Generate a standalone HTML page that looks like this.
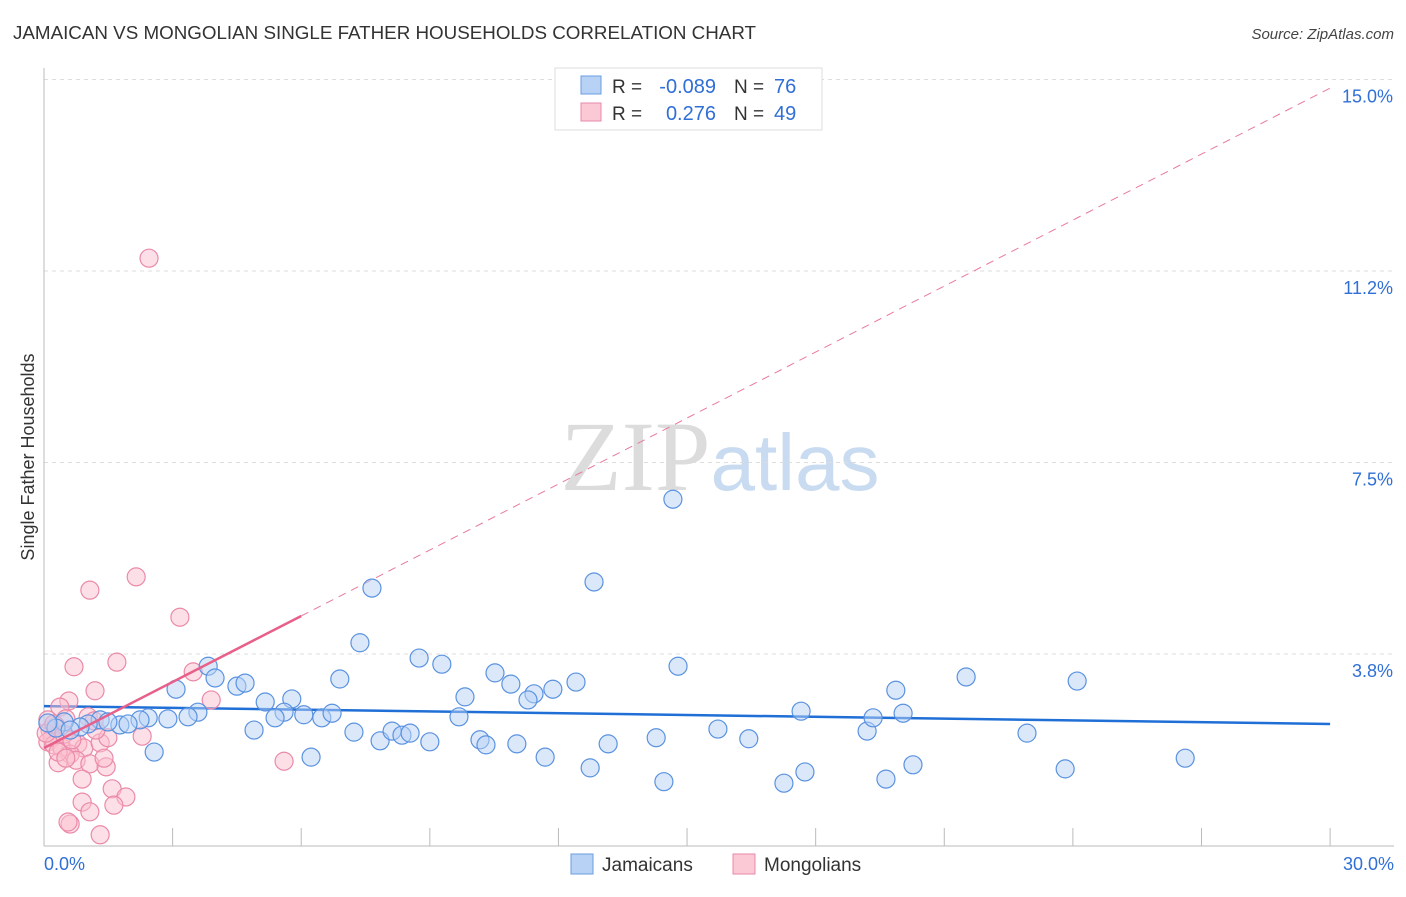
<!DOCTYPE html>
<html><head><meta charset="utf-8"><style>
body{margin:0;background:#fff;font-family:"Liberation Sans",sans-serif;}
svg text{font-family:"Liberation Sans",sans-serif;}
</style></head><body>
<svg id="chart" width="1406" height="892" viewBox="0 0 1406 892" xmlns="http://www.w3.org/2000/svg">
<text x="13" y="39" font-size="18.8" fill="#333">JAMAICAN VS MONGOLIAN SINGLE FATHER HOUSEHOLDS CORRELATION CHART</text>
<text x="1394" y="39" font-size="15" fill="#444" text-anchor="end" font-style="italic">Source: ZipAtlas.com</text>
<text x="720" y="490" font-size="100" text-anchor="middle"><tspan fill="#dcdcdc" font-family="Liberation Serif">ZIP</tspan><tspan fill="#c9dbf0" font-size="80">atlas</tspan></text>
<text transform="translate(34,457) rotate(-90)" font-size="18" fill="#333" text-anchor="middle">Single Father Households</text>
<g id="grid"></g><g id="axes"></g><g id="trends"></g><g id="pts"></g>
<g>
<rect x="555" y="68" width="267" height="62" fill="#fff" stroke="#ddd"/>
<rect x="581" y="76" width="20" height="18" fill="#b8d2f5" stroke="#6a9de0"/>
<rect x="581" y="103" width="20" height="18" fill="#fbc8d6" stroke="#ea8aa8"/>
<text x="612" y="93" font-size="19" fill="#333">R =</text>
<text x="716" y="93" font-size="20" fill="#2f6fd6" text-anchor="end">-0.089</text>
<text x="734" y="93" font-size="19" fill="#333">N =</text>
<text x="774" y="93" font-size="20" fill="#2f6fd6">76</text>
<text x="612" y="120" font-size="19" fill="#333">R =</text>
<text x="716" y="120" font-size="20" fill="#2f6fd6" text-anchor="end">0.276</text>
<text x="734" y="120" font-size="19" fill="#333">N =</text>
<text x="774" y="120" font-size="20" fill="#2f6fd6">49</text>
</g>
<g>
<rect x="571" y="854" width="22" height="20" fill="#b8d2f5" stroke="#6a9de0"/>
<text x="602" y="871" font-size="19" fill="#333">Jamaicans</text>
<rect x="733" y="854" width="22" height="20" fill="#fbc8d6" stroke="#ea8aa8"/>
<text x="764" y="871" font-size="19" fill="#333">Mongolians</text>
</g>
</svg>
<script>
const yTicks=[3.75,7.5,11.25,15];
const yTickLabels=["3.8%","7.5%","11.2%","15.0%"];
const xTickLabels=["0.0%","30.0%"];
const blueX=[14.67,12.83,7.65,7.37,8.75,9.28,14.79,10.52,10.89,11.43,11.29,11.87,12.41,9.82,9.68,6.90,3.83,3.99,4.50,4.69,3.08,5.16,5.78,5.60,6.06,6.48,6.72,5.39,3.59,3.36,2.89,2.43,2.24,1.77,1.31,1.49,1.03,0.84,0.47,0.28,0.09,2.57,4.90,6.23,7.23,7.84,8.12,8.35,8.54,9.00,10.17,10.31,11.03,11.69,12.74,13.16,14.28,14.46,15.72,16.44,17.26,17.66,17.75,19.20,19.34,19.64,19.87,20.04,20.27,21.51,22.93,23.82,24.10,26.62,1.96,0.61];
const blueY=[6.78,5.16,5.04,3.97,3.67,3.55,3.51,3.38,3.16,2.97,2.85,3.06,3.20,2.91,2.52,3.26,3.51,3.28,3.12,3.18,3.06,2.81,2.87,2.61,2.56,2.50,2.59,2.50,2.61,2.52,2.48,2.50,2.46,2.36,2.46,2.42,2.38,2.32,2.42,2.30,2.40,1.83,2.26,1.73,2.22,2.05,2.24,2.16,2.20,2.03,2.07,1.97,1.99,1.73,1.52,1.99,2.11,1.25,2.28,2.09,1.22,2.63,1.44,2.24,2.50,1.30,3.04,2.59,1.58,3.30,2.20,1.50,3.22,1.71,2.38,2.26];
const pinkX=[2.45,2.15,1.07,3.17,0.70,1.70,3.48,1.19,0.58,3.90,0.37,1.03,0.51,0.28,0.14,0.19,0.09,0.23,0.42,0.79,0.93,1.31,1.49,1.21,2.29,0.61,0.33,0.75,1.07,1.45,0.89,1.59,0.89,1.91,1.63,1.07,0.61,0.56,1.31,5.60,0.09,0.05,0.23,0.47,0.65,0.33,1.40,0.51,1.17];
const pinkY=[11.50,5.26,5.00,4.47,3.50,3.59,3.40,3.03,2.83,2.85,2.71,2.52,2.48,2.34,2.26,2.11,2.03,1.97,1.91,1.99,1.91,2.01,2.11,2.26,2.14,1.79,1.62,1.67,1.60,1.54,1.30,1.11,0.85,0.95,0.79,0.66,0.42,0.46,0.21,1.65,2.46,2.20,2.38,2.18,2.07,1.83,1.71,1.71,2.44];
const blueTrend=[2.73,2.38];
const pinkTrend=[1.91,14.83];
const pinkSolidEnd=6.0;
const NS="http://www.w3.org/2000/svg";
const X=v=>44+v*42.87, Y=v=>845.5-v*51.07;
function mk(t,a,p){const e=document.createElementNS(NS,t);for(const k in a)e.setAttribute(k,a[k]);p.appendChild(e);return e;}
const grid=document.getElementById('grid'),axes=document.getElementById('axes'),tr=document.getElementById('trends'),pts=document.getElementById('pts');
yTicks.forEach((t,i)=>{const l=mk('line',{x1:44,x2:1394,y1:Y(t),y2:Y(t),stroke:'#ddd','stroke-dasharray':'4,4'},grid);


const tx=mk('text',{x:1393,y:Y(t)+23,'font-size':18,fill:'#2f6fd6','text-anchor':'end'},grid);tx.textContent=yTickLabels[i];

});
const ya=mk('line',{x1:44,x2:44,y1:68,y2:846,stroke:'#bbb'},axes);


const xa=mk('line',{x1:44,x2:1394,y1:846,y2:846,stroke:'#bbb'},axes);


for(let i=0;i<=10;i++){const t=mk('line',{x1:X(i*3),x2:X(i*3),y1:828,y2:846,stroke:'#bbb'},axes);

}
[[0,'start',44],[30,'end',1394]].forEach((d,i)=>{const t=mk('text',{x:d[2],y:870,'font-size':18,fill:'#2f6fd6','text-anchor':d[1]},axes);t.textContent=xTickLabels[i];

});
function dots(xs,ys,fill,stroke,name){xs.forEach((x,i)=>{const c=mk('circle',{cx:X(x),cy:Y(ys[i]),r:9,fill:fill,'fill-opacity':0.5,stroke:stroke,'stroke-width':1.2},pts);

});}
dots(pinkX,pinkY,'#fbc0d0','#ea8aa8','mongolian-point');
dots(blueX,blueY,'#b8d2f5','#5a92e0','jamaican-point');
const pAt=v=>pinkTrend[0]+(pinkTrend[1]-pinkTrend[0])*v/30;
const bt=mk('line',{x1:X(0),y1:Y(blueTrend[0]),x2:X(30),y2:Y(blueTrend[1]),stroke:'#1f6fd6','stroke-width':2.5},tr);


const pd=mk('line',{x1:X(pinkSolidEnd),y1:Y(pAt(pinkSolidEnd)),x2:X(30),y2:Y(pAt(30)),stroke:'#e87a9c','stroke-width':1,'stroke-dasharray':'8,6'},tr);


const ps=mk('line',{x1:X(0),y1:Y(pAt(0)),x2:X(pinkSolidEnd),y2:Y(pAt(pinkSolidEnd)),stroke:'#e8608a','stroke-width':2.5},pts);


</script>
</body></html>
